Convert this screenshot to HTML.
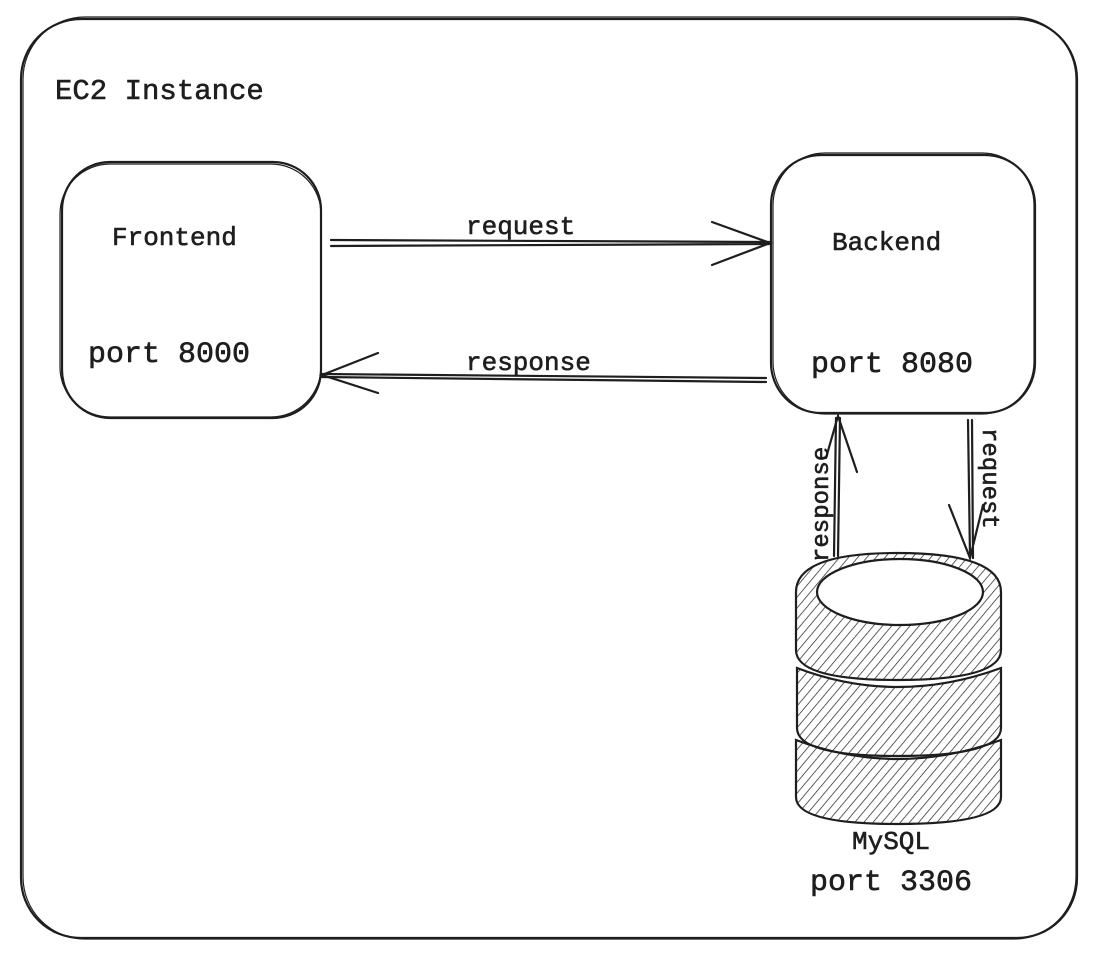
<!DOCTYPE html>
<html><head><style>
html,body{margin:0;padding:0;background:#fff;}
svg text{font-family:"Liberation Mono","DejaVu Sans Mono",monospace;fill:#1e1e1e;stroke:#1e1e1e;stroke-width:0.6;}
</style></head><body>
<svg width="1096" height="957" viewBox="0 0 1096 957" xmlns="http://www.w3.org/2000/svg">
<defs>
<pattern id="h" patternUnits="userSpaceOnUse" width="7" height="7" patternTransform="rotate(40)">
<line x1="0" y1="0" x2="0" y2="7" stroke="#1e1e1e" stroke-width="1.4"/>
</pattern>
</defs>
<g fill="none" stroke="#1e1e1e" stroke-width="2.2" stroke-linecap="round">
<rect x="21" y="19" width="1056" height="919" rx="60"/>
<rect x="23" y="17" width="1053" height="922" rx="62" stroke-width="1.2"/>
<rect x="62" y="162" width="259" height="256" rx="48"/>
<rect x="60" y="164" width="261" height="253" rx="50" stroke-width="1.2"/>
<rect x="771" y="155" width="264" height="258" rx="50"/>
<rect x="773" y="153" width="261" height="261" rx="52" stroke-width="1.2"/>
<path d="M331 240 L770 242 M331 246 L770 244"/>
<path d="M712 222 L770 243 L712 265"/>
<path d="M766 378 L322 374 M766 382 L322 377"/>
<path d="M378 353 L322 375 L378 393"/>
<path d="M834 556 L836 418 M838 556 L840 418"/>
<path d="M826 458 L838 416 L857 472"/>
<path d="M968 420 L970 558 M972 420 L973 558"/>
<path d="M949 505 L970 558 L983 505"/>
<!-- database -->
<path d="M796 740 Q897 778 1001 740 L1001 797 Q1001 824 897 824 Q796 824 796 797Z" fill="url(#h)"/>
<path d="M797 668 Q897 706 1001 668 L1001 728 Q1001 756 897 756 Q797 756 797 728Z" fill="url(#h)"/>
<path d="M796 592 Q796 553 897 553 Q1001 553 1001 592 L1001 650 Q1001 680 897 680 Q796 680 796 650Z" fill="url(#h)"/>
<ellipse cx="900" cy="592" rx="83" ry="33" fill="#fff"/>
</g>
<text x="55" y="99" font-size="29">EC2 Instance</text>
<text x="112" y="245" font-size="26">Frontend</text>
<text x="88" y="362" font-size="30">port 8000</text>
<text x="832" y="250" font-size="26">Backend</text>
<text x="811" y="372" font-size="30">port 8080</text>
<text x="466" y="234" font-size="26">request</text>
<text x="466" y="370" font-size="26">response</text>
<text transform="translate(828,562) rotate(-90)" font-size="24">response</text>
<text transform="translate(983,428) rotate(90)" font-size="24">request</text>
<text x="852" y="849" font-size="26">MySQL</text>
<text x="810" y="890" font-size="30">port 3306</text>
</svg>
</body></html>
